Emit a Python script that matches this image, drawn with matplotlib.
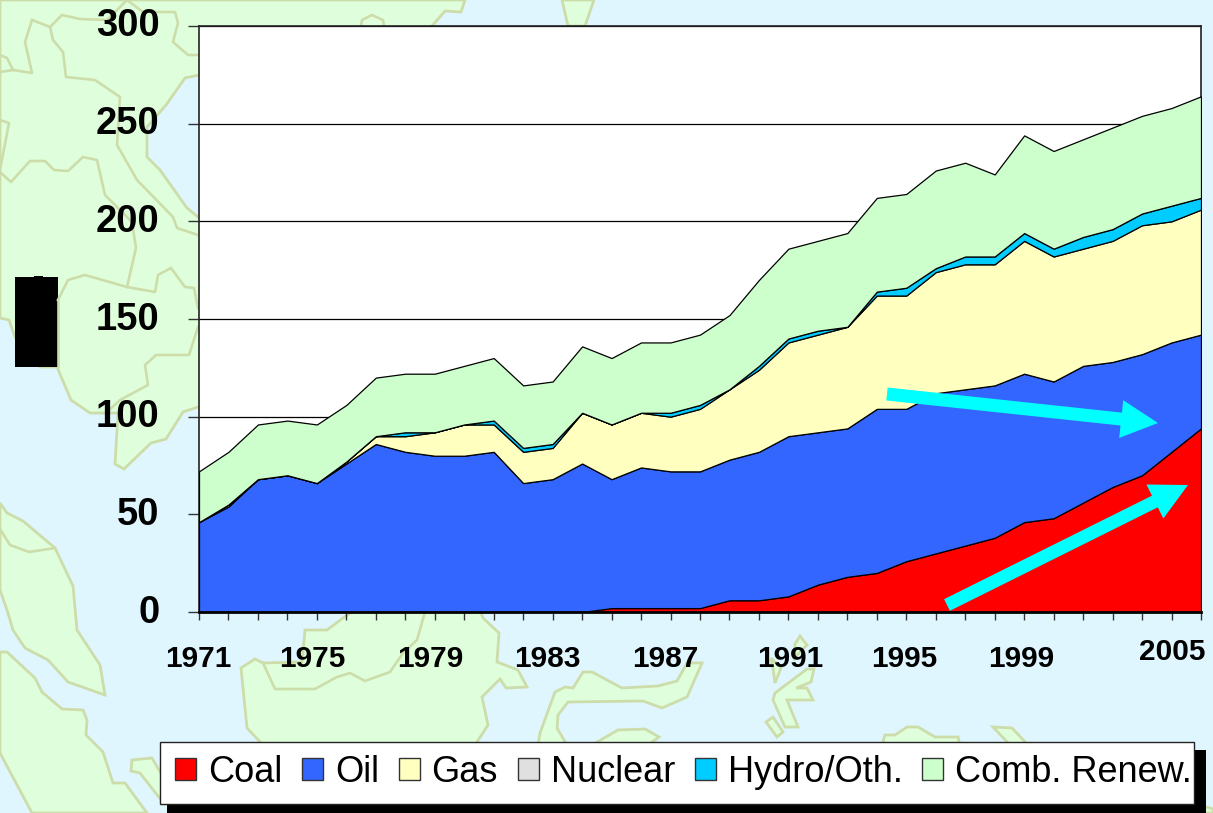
import numpy as np
import matplotlib
matplotlib.use("Agg")
import matplotlib.pyplot as plt
from matplotlib.patches import Patch, Polygon, Rectangle, FancyArrowPatch
from matplotlib.transforms import ScaledTranslation

plt.rcParams['font.family'] = ['Liberation Sans', 'DejaVu Sans']

# Data: top edge of each stacked band
years = list(range(1971, 2006))
coal_top = [0, 0, 0, 0, 0, 0, 0, 0, 0, 0, 0, 0, 0, 0, 2, 2, 2, 2, 6, 6, 8, 14, 18, 20, 26, 30, 34, 38, 46, 48, 56, 64, 70, 82, 94]
oil_top = [46, 54, 68, 70, 66, 76, 86, 82, 80, 80, 82, 66, 68, 76, 68, 74, 72, 72, 78, 82, 90, 92, 94, 104, 104, 112, 114, 116, 122, 118, 126, 128, 132, 138, 142]
gas_top = [46, 55, 68, 70, 66, 77, 90, 90, 92, 96, 96, 82, 84, 102, 96, 102, 100, 104, 114, 124, 138, 142, 146, 162, 162, 174, 178, 178, 190, 182, 186, 190, 198, 200, 206]
nuclear_top = [46, 55, 68, 70, 66, 77, 90, 90, 92, 96, 96, 82, 84, 102, 96, 102, 100, 104, 114, 124, 138, 142, 146, 162, 162, 174, 178, 178, 190, 182, 186, 190, 198, 200, 206]
hydro_top = [46, 55, 68, 70, 66, 77, 90, 92, 92, 96, 98, 84, 86, 102, 96, 102, 102, 106, 114, 126, 140, 144, 146, 164, 166, 176, 182, 182, 194, 186, 192, 196, 204, 208, 212]
renew_top = [72, 82, 96, 98, 96, 106, 120, 122, 122, 126, 130, 116, 118, 136, 130, 138, 138, 142, 152, 170, 186, 190, 194, 212, 214, 226, 230, 224, 244, 236, 242, 248, 254, 258, 264]

names = ["Coal", "Oil", "Gas", "Nuclear", "Hydro/Oth.", "Comb. Renew."]
colors = ["#FF0000", "#3366FF", "#FFFFC0", "#E0E0E0", "#00CCFF", "#CCFFCC"]
tops = [coal_top, oil_top, gas_top, nuclear_top, hydro_top, renew_top]

y_ticks = [0, 50, 100, 150, 200, 250, 300]
label_years = [1971, 1975, 1979, 1983, 1987, 1991, 1995, 1999, 2005]
label_dx = [-1, -5, -5, -5, -5, 2, -2, -3, -29]
label_dy = [-47, -47, -47, -47, -47, -47, -47, -47, -40]

# Map behind the chart, traced in pixels
SEA = "#DFF6FF"
LAND = "#DFFFDC"
EDGE = "#CCDDAA"
land = [
    [(0, 0), (465, 0), (461, 12), (445, 11), (432, 26), (300, 60), (199, 75), (185, 78), (166, 105), (147, 127),
     (147, 157), (160, 170), (187, 208), (198, 217), (215, 230), (215, 400), (198, 407), (183, 412), (166, 439),
     (151, 443), (124, 469), (115, 464), (118, 413), (90, 413), (71, 400), (57, 367), (40, 367), (15, 337),
     (9, 320), (0, 318)],
    [(562, 0), (568, 26), (585, 26), (594, 0)],
    [(0, 503), (7, 513), (23, 521), (55, 548), (73, 586), (77, 630), (100, 665), (105, 695), (68, 682), (48, 660),
     (25, 648), (13, 630), (7, 610), (0, 590)],
    [(0, 652), (7, 652), (35, 678), (42, 692), (62, 709), (83, 710), (87, 720), (86, 735), (103, 752), (113, 783),
     (125, 783), (147, 813), (32, 813), (0, 753)],
    [(132, 760), (152, 758), (165, 780), (165, 805), (140, 773), (131, 771)],
    [(241, 668), (255, 659), (263, 663), (302, 662), (305, 630), (327, 630), (347, 615), (355, 610), (480, 610),
     (483, 618), (499, 633), (497, 662), (518, 670), (527, 687), (506, 688), (500, 679), (482, 697), (488, 725),
     (475, 745), (263, 745), (247, 728)],
    [(538, 745), (540, 733), (555, 692), (565, 687), (573, 688), (583, 672), (592, 672), (622, 688), (658, 686),
     (677, 681), (687, 663), (702, 663), (687, 697), (662, 708), (643, 701), (568, 702), (558, 715), (557, 728),
     (567, 745)],
    [(592, 745), (618, 730), (645, 729), (659, 737), (648, 745)],
    [(794, 660), (795, 644), (800, 636), (807, 645), (797, 655)],
    [(771, 658), (781, 668), (775, 683), (773, 668)],
    [(775, 693), (807, 669), (814, 669), (811, 682), (796, 688), (807, 688), (813, 700), (787, 700), (798, 727),
     (785, 727), (773, 700)],
    [(766, 722), (773, 717), (783, 732), (777, 737)],
    [(882, 745), (885, 735), (895, 735), (907, 727), (918, 727), (935, 737), (958, 737), (960, 745)],
    [(993, 727), (1012, 728), (1028, 745), (1010, 745)],
    [(1203, 806), (1213, 809), (1213, 813), (1203, 813)],
]
borders = [
    [(32, 20), (50, 27), (62, 15), (80, 19), (107, 20), (127, 0)],
    [(50, 27), (53, 40), (63, 52), (66, 77), (95, 80), (120, 97), (117, 145), (137, 180), (173, 217), (177, 228), (198, 235)],
    [(32, 20), (25, 42), (32, 73), (13, 70), (7, 58), (0, 55)],
    [(13, 70), (0, 72)],
    [(0, 120), (9, 123), (0, 170)],
    [(0, 172), (11, 182), (30, 161), (45, 161), (54, 170), (68, 171), (83, 157), (97, 160), (105, 195), (132, 222),
     (136, 248), (127, 287), (155, 292), (158, 275), (171, 268), (185, 287), (194, 288), (198, 308)],
    [(127, 287), (85, 275), (68, 280), (58, 300)],
    [(127, 0), (143, 12), (175, 12), (178, 23), (173, 42), (188, 55), (198, 55)],
    [(198, 327), (189, 355), (156, 355), (145, 365), (148, 385), (120, 400), (107, 412)],
    [(58, 300), (58, 367)],
    [(0, 529), (10, 545), (29, 552), (55, 548)],
    [(263, 663), (275, 689), (315, 689), (337, 677), (350, 673), (365, 681), (390, 672), (403, 653), (417, 640), (425, 612)],
    [(361, 26), (362, 20), (372, 15), (383, 20), (384, 26)],
]

fig = plt.figure(figsize=(12.13, 8.13), dpi=100)

bg = fig.add_axes([0, 0, 1, 1], zorder=0)
bg.set_xlim(0, 1213)
bg.set_ylim(813, 0)
bg.axis("off")
bg.add_patch(Rectangle((0, 0), 1213, 813, facecolor=SEA, edgecolor="none"))
for shape in land:
    bg.add_patch(Polygon(shape, closed=True, facecolor=LAND, edgecolor=EDGE, linewidth=2, joinstyle="miter"))
for line in borders:
    bg.plot(*zip(*line), color=EDGE, linewidth=1.9)

# Redacted block, legend shadow and legend box
bg.add_patch(Rectangle((15, 277), 43, 90, facecolor="black", edgecolor="none"))
bg.add_patch(Rectangle((34, 276), 9, 2, facecolor="black", edgecolor="none"))
bg.add_patch(Rectangle((167, 750), 1039, 63, facecolor="black", edgecolor="none"))
bg.add_patch(Rectangle((160, 742), 1034, 62, facecolor="white", edgecolor="#222222", linewidth=1))

# Chart
ax = fig.add_axes([199 / 1213, 1 - 612 / 813, (1201 - 199) / 1213, (612 - 26) / 813], zorder=1)
ax.set_facecolor("white")
lower = [0] * len(years)
for name, top, color in zip(names, tops, colors):
    if name != "Nuclear":
        ax.fill_between(years, lower, top, facecolor=color, edgecolor="black", linewidth=0.9, zorder=3)
    lower = top

ax.set_xlim(1971, 2005)
ax.set_ylim(0, 300)
ax.set_yticks(y_ticks)
ax.set_xticks(years)
ax.set_xticklabels([])
ax.grid(axis="y", color="black", linewidth=0.9, zorder=1)
ax.set_axisbelow(True)
ax.tick_params(axis="y", length=8, width=1, color="#333333", pad=20.5, labelsize=27.5)
ax.tick_params(axis="x", length=5.5, width=1, color="#333333")
shift = ScaledTranslation(0, 3.5 / 100, fig.dpi_scale_trans)
for lab in ax.get_yticklabels():
    lab.set_fontweight("bold")
    lab.set_transform(lab.get_transform() + shift)
for side in ["left", "top", "right"]:
    ax.spines[side].set_linewidth(1.2)
    ax.spines[side].set_color("#222222")
ax.spines["bottom"].set_linewidth(2)
ax.spines["bottom"].set_color("black")
ax.spines["bottom"].set_zorder(5)

for yr, dx, dy in zip(label_years, label_dx, label_dy):
    ax.annotate(str(yr), xy=(yr, 0), xycoords=("data", "axes fraction"), xytext=(dx, dy),
                textcoords="offset pixels", ha="center", va="center", fontsize=21.5, fontweight="bold")

# Trend arrows on top of the chart
top_ax = fig.add_axes([0, 0, 1, 1], zorder=2)
top_ax.set_xlim(0, 1213)
top_ax.set_ylim(813, 0)
top_ax.axis("off")
style = "simple,head_length=%f,head_width=%f,tail_width=%f" % (37 * 0.72, 38 * 0.72, 13 * 0.72)
top_ax.add_patch(FancyArrowPatch((887, 394), (1158, 423), arrowstyle=style, mutation_scale=1,
                                 color="#00FFFF", linewidth=0, shrinkA=0, shrinkB=0))
top_ax.add_patch(FancyArrowPatch((947, 605), (1188, 485), arrowstyle=style, mutation_scale=1,
                                 color="#00FFFF", linewidth=0, shrinkA=0, shrinkB=0))

# Legend
handles = [Patch(facecolor=c, edgecolor="#333333", linewidth=1) for c in colors]
leg = fig.legend(handles, names, loc="center left", bbox_to_anchor=(175 / 1213, 1 - 772 / 813), ncol=6,
                 fontsize=26, frameon=False, borderaxespad=0, borderpad=0, handlelength=0.58,
                 handleheight=0.58, handletextpad=0.33, columnspacing=0.55)
leg.set_zorder(10)

plt.savefig("out.png", dpi=100)
plt.close()
